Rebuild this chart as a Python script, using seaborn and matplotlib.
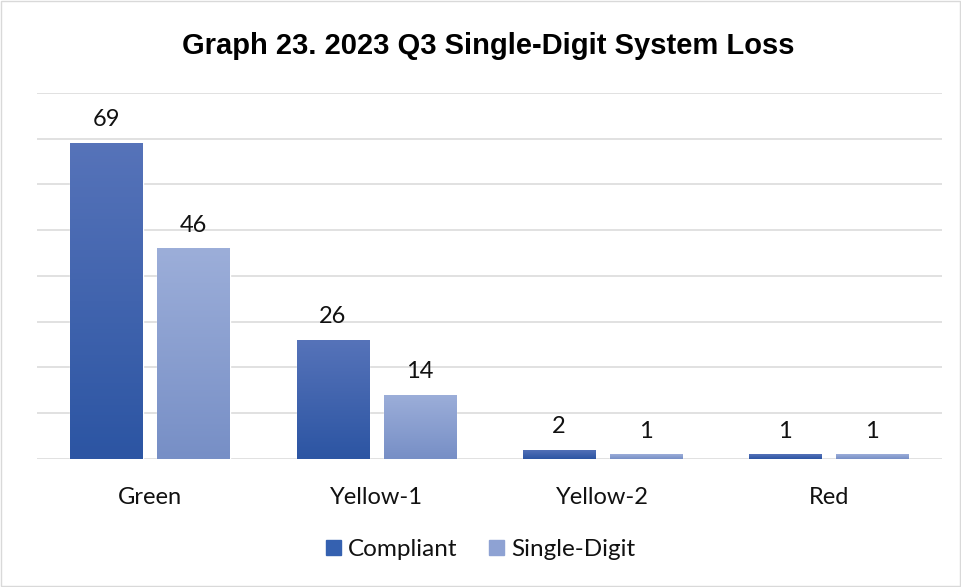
import numpy as np
import pandas as pd
import seaborn as sns
import matplotlib.pyplot as plt
from matplotlib.colors import LinearSegmentedColormap
from matplotlib.patches import Rectangle

categories = ["Green", "Yellow-1", "Yellow-2", "Red"]
compliant = [69, 26, 2, 1]
single_digit = [46, 14, 1, 1]
series = ["Compliant", "Single-Digit"]

df = pd.DataFrame({
    "category": categories * 2,
    "count": compliant + single_digit,
    "series": ["Compliant"] * 4 + ["Single-Digit"] * 4,
})

# top -> bottom gradient colours for each series
grad = {
    "Compliant": ("#5673b9", "#2c55a3"),
    "Single-Digit": ("#9caed9", "#778fc6"),
}
flat = {"Compliant": "#3561b0", "Single-Digit": "#8ea2d3"}

sns.set_theme(style="white")
plt.rcParams["font.family"] = ["Lato", "DejaVu Sans"]

fig = plt.figure(figsize=(9.61, 5.87), dpi=100)
ax = fig.add_axes([0.0385, 0.218, 0.9415, 0.624])

sns.barplot(data=df, x="category", y="count", hue="series", order=categories,
            hue_order=series, palette=flat, width=0.77, gap=0.17,
            legend=False, ax=ax)

ax.set_ylim(0, 80)
ax.set_xlim(-0.5, 3.5)
ax.set_yticks(np.arange(0, 81, 10))
ax.yaxis.grid(True, color="#d9d9d9", linewidth=1.1)
ax.set_axisbelow(True)
for s in ax.spines.values():
    s.set_visible(False)
ax.tick_params(axis="y", left=False, labelleft=False)
ax.tick_params(axis="x", bottom=False, pad=14, labelsize=17, labelcolor="#111111")
ax.set_xlabel("")
ax.set_ylabel("")

# gradient fill + value labels
vals = compliant + single_digit
for i, (patch, v) in enumerate(zip(ax.patches, vals)):
    name = series[i // 4]
    x0, w, h = patch.get_x(), patch.get_width(), patch.get_height()
    cmap = LinearSegmentedColormap.from_list(name, [grad[name][1], grad[name][0]])
    img = ax.imshow(np.linspace(0, 1, 100).reshape(-1, 1), cmap=cmap,
                    extent=[x0, x0 + w, 0, h], origin="lower", aspect="auto",
                    zorder=patch.get_zorder())
    img.set_clip_path(patch)
    ax.text(x0 + w / 2, h + 2.8, str(v), ha="center", va="bottom",
            fontsize=17, color="#111111")
ax.set_xlim(-0.5, 3.5)
ax.set_ylim(0, 80)

fig.text(0.508, 0.922, "Graph 23. 2023 Q3 Single-Digit System Loss", ha="center",
         va="center", fontsize=21, fontweight="bold", family="Liberation Sans",
         color="black")

handles = [Rectangle((0, 0), 1, 1, color=flat[s]) for s in series]
leg = fig.legend(handles, series, loc="center", bbox_to_anchor=(0.5, 0.064), ncol=2,
                 frameon=False, fontsize=17.5, handlelength=0.6, handleheight=0.6,
                 handletextpad=0.3, columnspacing=1.3)
for t in leg.get_texts():
    t.set_color("#111111")

fig.patches.append(Rectangle((0.001, 0.001), 0.998, 0.998, transform=fig.transFigure,
                             fill=False, edgecolor="#d9d9d9", linewidth=1))

fig.savefig("out.png", dpi=100)
